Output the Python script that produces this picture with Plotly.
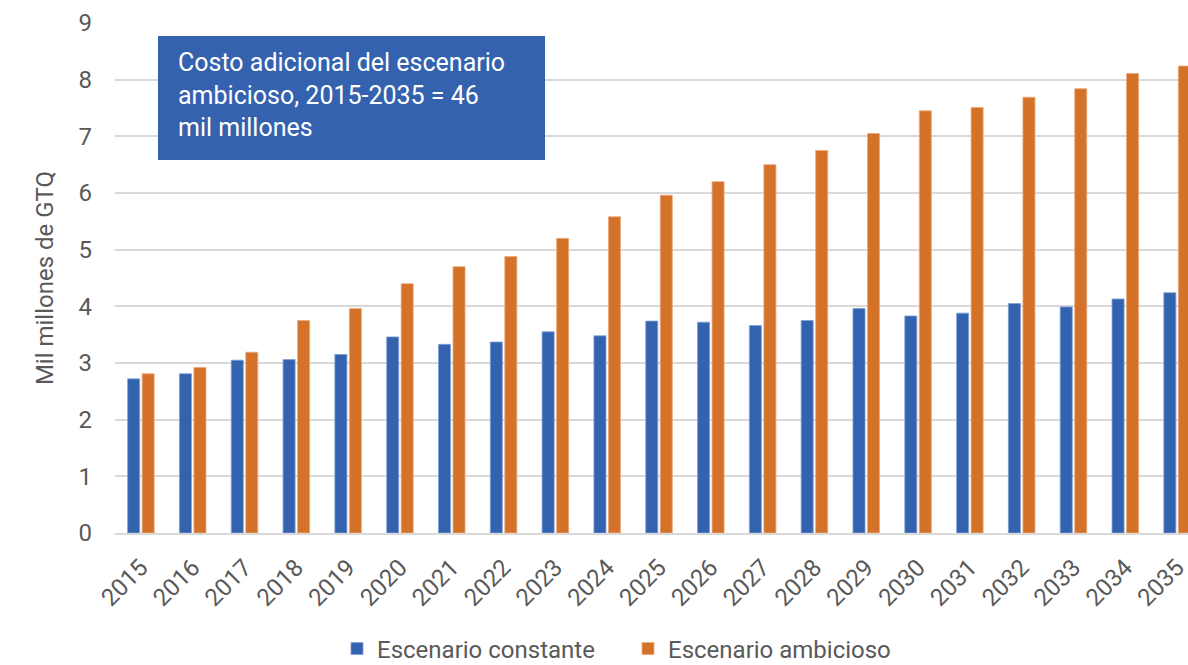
import plotly.graph_objects as go

years = [str(y) for y in range(2015, 2036)]
constante = [2.72, 2.81, 3.05, 3.06, 3.15, 3.46, 3.33, 3.37, 3.55, 3.48, 3.74,
             3.72, 3.66, 3.75, 3.96, 3.83, 3.88, 4.05, 3.99, 4.13, 4.24]
ambicioso = [2.81, 2.92, 3.19, 3.75, 3.96, 4.40, 4.70, 4.88, 5.20, 5.58, 5.96,
             6.20, 6.50, 6.75, 7.05, 7.45, 7.51, 7.69, 7.84, 8.11, 8.24]
y_ticks = list(range(0, 10))

BLUE = "#3363AE"
ORANGE = "#D4722A"
FONT = "Roboto"
GREY = "#595959"

W, H = 1188, 665
ML, MR, MT, MB = 115, 0, 23, 132
PW, PH = W - ML - MR, H - MT - MB

def px_x(px):
    return (px - ML) / PW

def px_y(py):
    return (H - MB - py) / PH

fig = go.Figure()
fig.add_trace(go.Bar(x=years, y=constante, name="Escenario constante",
                     marker=dict(color=BLUE, line=dict(color="#7F9FD3", width=0.8))))
fig.add_trace(go.Bar(x=years, y=ambicioso, name="Escenario ambicioso",
                     marker=dict(color=ORANGE, line=dict(color="#EBAA7A", width=0.8))))

fig.add_shape(type="rect", xref="paper", yref="paper",
              x0=px_x(158), x1=px_x(545), y0=px_y(160), y1=px_y(36),
              fillcolor="#3462AF", line=dict(width=0), layer="above")
fig.add_annotation(xref="paper", yref="paper", x=px_x(176), y=px_y(46),
                   xanchor="left", yanchor="top", align="left", showarrow=False,
                   text="Costo adicional del escenario<br>ambicioso, 2015-2035 = 46<br>mil millones",
                   font=dict(family=FONT, size=25, color="white"))

fig.update_layout(
    width=W, height=H,
    margin=dict(l=ML, r=MR, t=MT, b=MB, autoexpand=False),
    plot_bgcolor="white", paper_bgcolor="white",
    barmode="group", bargap=0.44, bargroupgap=0.17,
    font=dict(family=FONT, color=GREY),
    showlegend=True,
    legend=dict(orientation="h", x=px_x(337), xanchor="left", xref="paper",
                y=px_y(649), yanchor="middle", yref="paper",
                font=dict(family=FONT, size=24, color=GREY),
                itemwidth=30, tracegroupgap=0, entrywidth=246),
    xaxis=dict(range=[-0.5, 20.21], tickangle=-45, showgrid=False,
               showline=True, linecolor="#D9D9D9", linewidth=2,
               tickfont=dict(family=FONT, size=24, color=GREY),
               ticks="", ticklabelstandoff=9, automargin=False),
    yaxis=dict(range=[0, 9], tickvals=y_ticks, showgrid=True, gridcolor="#D9D9D9",
               gridwidth=2, zeroline=False, showline=False,
               tickfont=dict(family=FONT, size=24, color=GREY),
               ticklabelstandoff=22, automargin=False,
               title=dict(text="Mil millones de GTQ", standoff=18,
                          font=dict(family=FONT, size=24, color=GREY))),
)

fig.write_html("out.html")
